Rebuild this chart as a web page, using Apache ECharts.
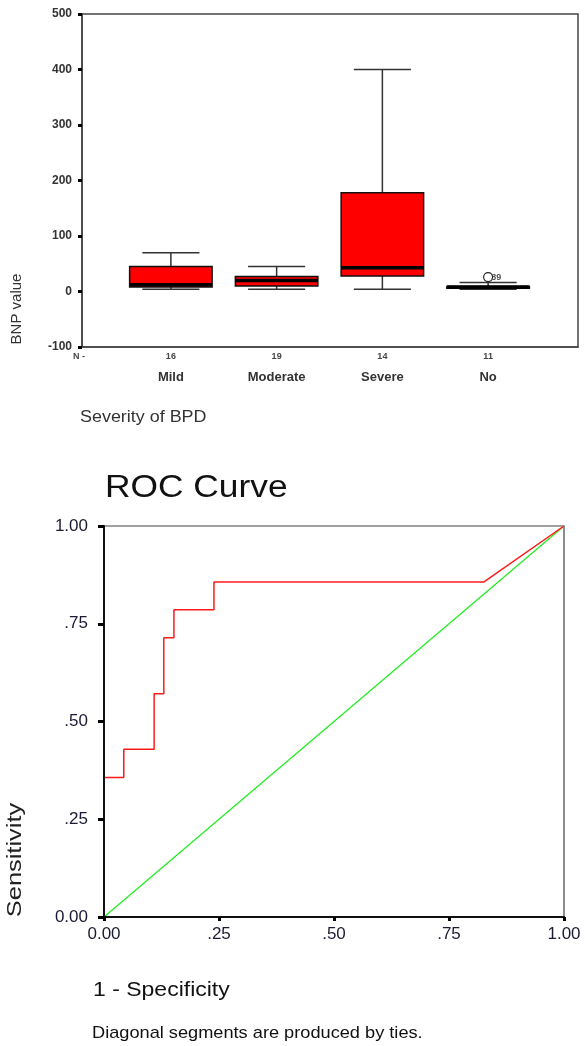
<!DOCTYPE html>
<html>
<head>
<meta charset="utf-8">
<script src="https://cdn.jsdelivr.net/npm/echarts@6/dist/echarts.min.js"></script>
<style>
  html, body { margin: 0; padding: 0; background: #fff; }
  #main { width: 585px; height: 1046px; }
</style>
</head>
<body>
<div id="main"></div>
<script>
// box plot: BNP value by severity of BPD
var categories = ['Mild', 'Moderate', 'Severe', 'No'];
var counts = [16, 19, 14, 11];
// [min, Q1, median, Q3, max]
var boxData = [
    [4, 8, 12, 45, 70],
    [4, 10, 20, 27, 45],
    [4, 28, 43, 178, 400],
    [4, 6, 8, 9, 16]
];
// [category index, value, case label]
var outliers = [[3, 26, '39']];

// ROC curve
var rocX = [0, 0, 0.043, 0.043, 0.109, 0.109, 0.130, 0.130, 0.152, 0.152, 0.239, 0.239, 0.826, 1];
var rocY = [0, 0.357, 0.357, 0.429, 0.429, 0.571, 0.571, 0.714, 0.714, 0.786, 0.786, 0.857, 0.857, 1];
var diagX = [0, 1];
var diagY = [0, 1];
var rocTickLabels = {0: '0.00', 0.25: '.25', 0.5: '.50', 0.75: '.75', 1: '1.00'};

var FONT = '"Liberation Sans", Arial, sans-serif';

function zip(a, b) {
    return a.map(function (v, i) { return [v, b[i]]; });
}

function renderBox(params, api) {
    var i = api.value(0);
    var bw = api.size([1, 0])[0];
    var lo = api.coord([i, api.value(1)]);
    var q1 = api.coord([i, api.value(2)]);
    var md = api.coord([i, api.value(3)]);
    var q3 = api.coord([i, api.value(4)]);
    var hi = api.coord([i, api.value(5)]);
    var x = lo[0];
    var half = bw * 0.39;
    var cap = bw * 0.27;
    var line = {stroke: '#333', lineWidth: 1.5};
    return {
        type: 'group',
        children: [
            {type: 'line', shape: {x1: x, y1: hi[1], x2: x, y2: q3[1]}, style: line},
            {type: 'line', shape: {x1: x, y1: q1[1], x2: x, y2: lo[1]}, style: line},
            {type: 'line', shape: {x1: x - cap, y1: hi[1], x2: x + cap, y2: hi[1]}, style: line},
            {type: 'line', shape: {x1: x - cap, y1: lo[1], x2: x + cap, y2: lo[1]}, style: line},
            {type: 'rect', shape: {x: x - half, y: q3[1], width: half * 2, height: q1[1] - q3[1]},
                style: {fill: '#ff0000', stroke: '#111', lineWidth: 1.5}},
            {type: 'line', shape: {x1: x - half, y1: md[1], x2: x + half, y2: md[1]},
                style: {stroke: '#000', lineWidth: 3.5}}
        ]
    };
}

function renderOutlier(params, api) {
    var p = api.coord([api.value(0), api.value(1)]);
    return {
        type: 'group',
        children: [
            {type: 'circle', shape: {cx: p[0], cy: p[1], r: 4.5},
                style: {fill: '#fff', stroke: '#222', lineWidth: 1.2}},
            {type: 'text', x: p[0] + 3, y: p[1],
                style: {text: outliers[params.dataIndex][2], fill: '#555', font: 'bold 9px ' + FONT,
                    verticalAlign: 'middle'}}
        ]
    };
}

var chart = echarts.init(document.getElementById('main'));

chart.setOption({
    backgroundColor: '#fff',
    animation: false,
    grid: [
        {left: 82, top: 14, width: 496, height: 333, show: true, borderColor: '#444', borderWidth: 1.5},
        {left: 118, top: 14, width: 423, height: 333},
        {left: 104, top: 526, width: 460, height: 391, show: true, borderColor: '#444', borderWidth: 1.2}
    ],
    xAxis: [
        {gridIndex: 0, type: 'value', min: 0, max: 1, axisLabel: {show: false}, axisTick: {show: false},
            splitLine: {show: false}, axisLine: {onZero: false, lineStyle: {color: '#444', width: 1.5}}},
        {gridIndex: 1, type: 'category', data: categories, axisLine: {show: false},
            axisTick: {alignWithLabel: true, length: 3, lineStyle: {color: '#000', width: 3}},
            axisLabel: {
                margin: 3,
                formatter: function (v, i) { return '{n|' + counts[i] + '}\n{c|' + v + '}'; },
                rich: {
                    n: {fontSize: 9, fontWeight: 'bold', color: '#444', lineHeight: 14, fontFamily: FONT},
                    c: {fontSize: 13, fontWeight: 'bold', color: '#333', lineHeight: 26, fontFamily: FONT}
                }
            }},
        {gridIndex: 2, type: 'value', min: 0, max: 1, interval: 0.25, splitLine: {show: false}, z: 10,
            axisLine: {onZero: false, lineStyle: {color: '#111', width: 2}},
            axisTick: {length: 4, lineStyle: {color: '#000', width: 3}},
            axisLabel: {margin: 9, fontSize: 17, color: '#1a1a33', fontFamily: FONT,
                formatter: function (v) { return rocTickLabels[v]; }}}
    ],
    yAxis: [
        {gridIndex: 0, type: 'value', min: -100, max: 500, interval: 100, splitLine: {show: false},
            axisLine: {onZero: false, lineStyle: {color: '#444', width: 1.5}},
            axisTick: {length: 4, lineStyle: {color: '#000', width: 3}},
            axisLabel: {margin: 10, fontSize: 12, fontWeight: 'bold', color: '#333', fontFamily: FONT}},
        {gridIndex: 1, type: 'value', min: -100, max: 500, show: false, splitLine: {show: false}},
        {gridIndex: 2, type: 'value', min: 0, max: 1, interval: 0.25, splitLine: {show: false}, z: 10,
            axisLine: {onZero: false, lineStyle: {color: '#111', width: 2}},
            axisTick: {length: 6, lineStyle: {color: '#000', width: 3}},
            axisLabel: {margin: 16, fontSize: 17, color: '#1a1a33', fontFamily: FONT,
                formatter: function (v) { return rocTickLabels[v]; }}}
    ],
    series: [
        {type: 'custom', xAxisIndex: 1, yAxisIndex: 1, renderItem: renderBox, clip: false,
            data: boxData.map(function (d, i) { return [i].concat(d); })},
        {type: 'custom', xAxisIndex: 1, yAxisIndex: 1, renderItem: renderOutlier, clip: false,
            data: outliers.map(function (o) { return [o[0], o[1]]; }), z: 5},
        {type: 'line', xAxisIndex: 2, yAxisIndex: 2, data: zip(diagX, diagY), showSymbol: false,
            lineStyle: {color: '#22ee22', width: 1.3}, z: 3},
        {type: 'line', xAxisIndex: 2, yAxisIndex: 2, data: zip(rocX, rocY), showSymbol: false,
            lineStyle: {color: '#ff1a1a', width: 1.5}, z: 4}
    ],
    graphic: [
        {type: 'text', x: 17, y: 309, rotation: Math.PI / 2,
            style: {text: 'BNP value', font: '15px ' + FONT, fill: '#333', align: 'center', verticalAlign: 'middle'}},
        {type: 'text', x: 73, y: 357,
            style: {text: 'N -', font: 'bold 9px ' + FONT, fill: '#444', verticalAlign: 'middle'}},
        {type: 'text', x: 80, y: 418, scaleX: 1.12,
            style: {text: 'Severity of BPD', font: '16px ' + FONT, fill: '#333', verticalAlign: 'middle'}},
        {type: 'text', x: 105, y: 488, scaleX: 1.14,
            style: {text: 'ROC Curve', font: '31px ' + FONT, fill: '#111', verticalAlign: 'middle'}},
        {type: 'text', x: 15, y: 860, rotation: Math.PI / 2, scaleX: 1.27,
            style: {text: 'Sensitivity', font: '20px ' + FONT, fill: '#222', align: 'center', verticalAlign: 'middle'}},
        {type: 'text', x: 93, y: 990, scaleX: 1.15,
            style: {text: '1 - Specificity', font: '20px ' + FONT, fill: '#111', verticalAlign: 'middle'}},
        {type: 'text', x: 92, y: 1033, scaleX: 1.07,
            style: {text: 'Diagonal segments are produced by ties.', font: '17px ' + FONT, fill: '#111', verticalAlign: 'middle'}}
    ]
});
</script>
</body>
</html>
